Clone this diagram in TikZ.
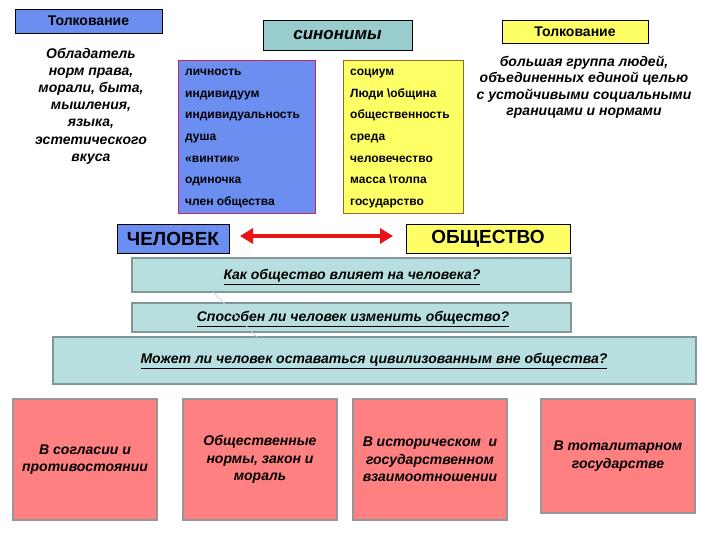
\documentclass[tikz,border=0pt]{standalone}
\usepackage{fontspec}
\setmainfont{Liberation Sans}
\usetikzlibrary{arrows.meta}
\definecolor{bluefill}{RGB}{107,142,240}
\definecolor{yelfill}{RGB}{255,255,102}
\definecolor{tealfill}{RGB}{153,204,204}
\definecolor{qfill}{RGB}{184,223,224}
\definecolor{qborder}{RGB}{128,150,152}
\definecolor{redfill}{RGB}{255,128,128}
\definecolor{redborder}{RGB}{150,150,150}
\definecolor{blueborder}{RGB}{190,40,110}
\definecolor{yelborder}{RGB}{160,100,40}
\definecolor{arrred}{RGB}{235,20,20}
\newcommand\fsz[2]{\fontsize{#1}{#2}\selectfont}
\begin{document}
\begin{tikzpicture}[x=1pt,y=-1pt,
  box/.style={rectangle, inner sep=0pt, outer sep=0pt},
  tolk/.style={box, draw=black, line width=0.8pt, font=\bfseries\fsz{14}{15}},
  listbox/.style={box, line width=0.8pt},
  itm/.style={inner sep=0pt, anchor=base west, font=\bfseries\fsz{12}{14}},
  itxt/.style={inner sep=0pt, align=center, font=\bfseries\itshape\fsz{14}{17.2}},
  bigbox/.style={box, draw=black, line width=0.8pt, font=\bfseries\fsz{19}{22}},
  qbox/.style={box, fill=qfill, draw=qborder, line width=1.6pt},
  qtxt/.style={inner sep=0pt, font=\bfseries\itshape\fsz{14}{16}},
  rbox/.style={box, fill=redfill, draw=redborder, line width=1.5pt, align=center, font=\bfseries\itshape\fsz{14}{17.5}}
]
\fill[white] (0,0) rectangle (720,540);
\useasboundingbox (0,0) rectangle (720,540);

% interpretation boxes
\node[tolk, fill=bluefill, minimum width=147pt, minimum height=24pt] (t1) at (88.5,21) {Толкование};
\node[tolk, fill=yelfill, minimum width=146pt, minimum height=23pt] (t2) at (575,31.5) {Толкование};

\node[itxt] (d1) at (91,106) {Обладатель\\норм права,\\морали, быта,\\мышления,\\языка,\\эстетического\\вкуса};
\node[itxt, font=\bfseries\itshape\fsz{14}{16.5}] (d2) at (584,87) {большая группа людей,\\объединенных единой целью\\с устойчивыми социальными\\границами и нормами};

% synonyms
\node[box, fill=tealfill, draw=black, line width=0.8pt, minimum width=149pt, minimum height=30pt, font=\bfseries\itshape\fsz{17}{20}] (syn) at (337.5,35) {синонимы};

\node[listbox, fill=bluefill, draw=blueborder, minimum width=137pt, minimum height=153pt] (bl) at (246.5,136.5) {};
\node[listbox, fill=yelfill, draw=yelborder, minimum width=120pt, minimum height=153pt] (yl) at (403,136.5) {};

\node[itm] (b1) at (185,76) {личность};
\node[itm] (b2) at (185,97.5) {индивидуум};
\node[itm] (b3) at (185,119) {индивидуальность};
\node[itm] (b4) at (185,141) {душа};
\node[itm] (b5) at (185,162.5) {«винтик»};
\node[itm] (b6) at (185,184) {одиночка};
\node[itm] (b7) at (185,206) {член общества};

\node[itm] (y1) at (350,76) {социум};
\node[itm] (y2) at (350,97.5) {Люди \textbackslash община};
\node[itm] (y3) at (350,119) {общественность};
\node[itm] (y4) at (350,141) {среда};
\node[itm] (y5) at (350,162.5) {человечество};
\node[itm] (y6) at (350,184) {масса \textbackslash толпа};
\node[itm] (y7) at (350,206) {государство};

% man / society
\node[bigbox, fill=bluefill, minimum width=112pt, minimum height=29pt] (man) at (173,238.5) {ЧЕЛОВЕК};
\node[bigbox, fill=yelfill, minimum width=164pt, minimum height=29pt] (soc) at (488,238.5) {ОБЩЕСТВО};
\coordinate (a1) at (240,236);
\coordinate (a2) at (393,236);
\draw[arrred, line width=4pt, {Triangle[length=13pt,width=15pt]}-{Triangle[length=13pt,width=15pt]}] (a1) -- (a2);

% questions
\node[qbox, minimum width=439pt, minimum height=34pt] (q1) at (351.5,275) {};
\node[qtxt] at (352,277) {\underline{Как общество влияет на человека?}};
\node[qbox, minimum width=439pt, minimum height=29pt] (q2) at (351.5,317.5) {};
\node[qtxt] at (353,319) {\underline{Способен ли человек изменить общество?}};
\node[qbox, minimum width=643pt, minimum height=47pt] (q3) at (374.5,360.5) {};
\node[qtxt] at (374,361) {\underline{Может ли человек оставаться цивилизованным вне общества?}};

\coordinate (l1) at (213,292);
\coordinate (l2) at (257,337);
\draw[gray!35, line width=0.8pt] (l1) -- (l2);

% bottom boxes
\node[rbox, minimum width=144pt, minimum height=121pt] (r1) at (85,459.5) {В согласии и\\противостоянии};
\node[rbox, minimum width=154pt, minimum height=121pt] (r2) at (260,459.5) {Общественные\\нормы, закон и\\мораль};
\node[rbox, minimum width=154pt, minimum height=121pt] (r3) at (430,459.5) {В историческом\ \ и\\государственном\\взаимоотношении};
\node[rbox, minimum width=154pt, minimum height=114pt] (r4) at (618,456) {В тоталитарном\\государстве};
\end{tikzpicture}
\end{document}
